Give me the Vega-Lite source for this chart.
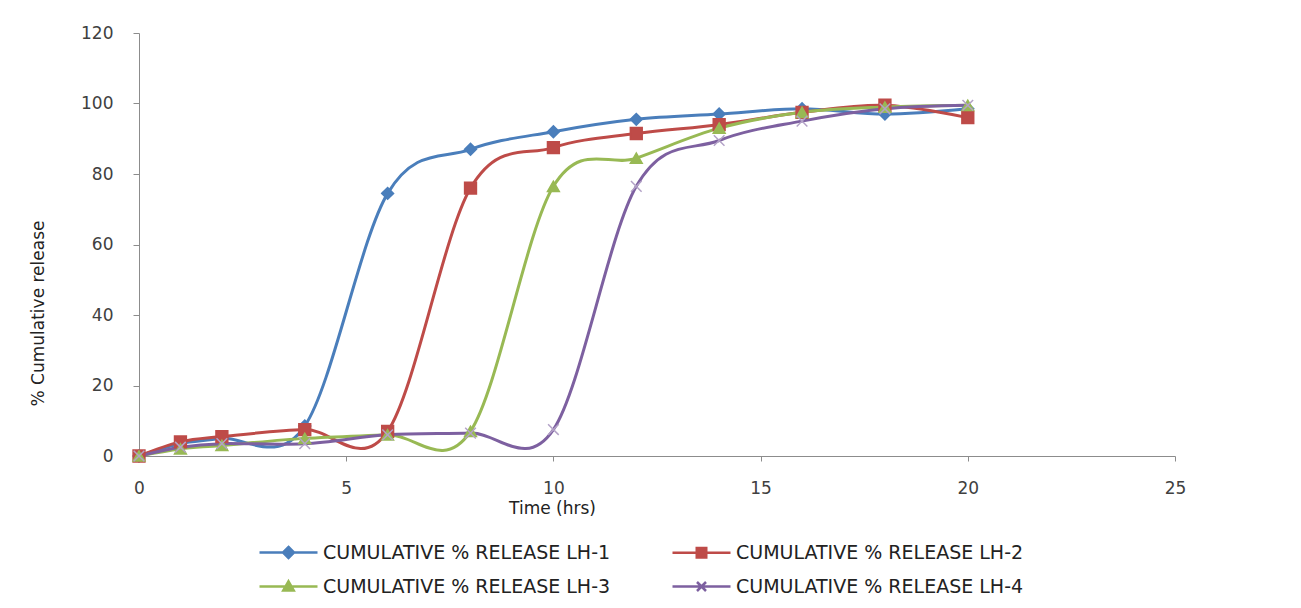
{
  "$schema": "https://vega.github.io/schema/vega-lite/v6.json",
  "width": 1036,
  "height": 423,
  "autosize": {"type": "none"},
  "padding": {"left": 139, "top": 33, "right": 126, "bottom": 152},
  "background": "white",
  "config": {
    "view": {"stroke": null},
    "font": "DejaVu Sans",
    "axis": {
      "grid": false,
      "domainColor": "#8c8c8c",
      "tickColor": "#8c8c8c",
      "labelColor": "#404040",
      "titleColor": "#222222",
      "labelFont": "DejaVu Sans",
      "titleFont": "DejaVu Sans",
      "labelFontSize": 17,
      "titleFontSize": 17,
      "titleFontWeight": "normal",
      "labelFlush": false
    }
  },
  "data": {
    "values": [
      {"series": "CUMULATIVE % RELEASE  LH-1", "time": 0, "release": 0},
      {"series": "CUMULATIVE % RELEASE  LH-1", "time": 1, "release": 3.5},
      {"series": "CUMULATIVE % RELEASE  LH-1", "time": 2, "release": 5},
      {"series": "CUMULATIVE % RELEASE  LH-1", "time": 4, "release": 8.5},
      {"series": "CUMULATIVE % RELEASE  LH-1", "time": 6, "release": 74.5},
      {"series": "CUMULATIVE % RELEASE  LH-1", "time": 8, "release": 87},
      {"series": "CUMULATIVE % RELEASE  LH-1", "time": 10, "release": 92},
      {"series": "CUMULATIVE % RELEASE  LH-1", "time": 12, "release": 95.5},
      {"series": "CUMULATIVE % RELEASE  LH-1", "time": 14, "release": 97},
      {"series": "CUMULATIVE % RELEASE  LH-1", "time": 16, "release": 98.5},
      {"series": "CUMULATIVE % RELEASE  LH-1", "time": 18, "release": 97},
      {"series": "CUMULATIVE % RELEASE  LH-1", "time": 20, "release": 98.5},
      {"series": "CUMULATIVE % RELEASE  LH-2", "time": 0, "release": 0},
      {"series": "CUMULATIVE % RELEASE  LH-2", "time": 1, "release": 4},
      {"series": "CUMULATIVE % RELEASE  LH-2", "time": 2, "release": 5.5},
      {"series": "CUMULATIVE % RELEASE  LH-2", "time": 4, "release": 7.5},
      {"series": "CUMULATIVE % RELEASE  LH-2", "time": 6, "release": 7},
      {"series": "CUMULATIVE % RELEASE  LH-2", "time": 8, "release": 76},
      {"series": "CUMULATIVE % RELEASE  LH-2", "time": 10, "release": 87.5},
      {"series": "CUMULATIVE % RELEASE  LH-2", "time": 12, "release": 91.5},
      {"series": "CUMULATIVE % RELEASE  LH-2", "time": 14, "release": 94},
      {"series": "CUMULATIVE % RELEASE  LH-2", "time": 16, "release": 97.5},
      {"series": "CUMULATIVE % RELEASE  LH-2", "time": 18, "release": 99.5},
      {"series": "CUMULATIVE % RELEASE  LH-2", "time": 20, "release": 96},
      {"series": "CUMULATIVE % RELEASE  LH-3", "time": 0, "release": 0},
      {"series": "CUMULATIVE % RELEASE  LH-3", "time": 1, "release": 2},
      {"series": "CUMULATIVE % RELEASE  LH-3", "time": 2, "release": 3},
      {"series": "CUMULATIVE % RELEASE  LH-3", "time": 4, "release": 5},
      {"series": "CUMULATIVE % RELEASE  LH-3", "time": 6, "release": 6},
      {"series": "CUMULATIVE % RELEASE  LH-3", "time": 8, "release": 7},
      {"series": "CUMULATIVE % RELEASE  LH-3", "time": 10, "release": 76.5},
      {"series": "CUMULATIVE % RELEASE  LH-3", "time": 12, "release": 84.5},
      {"series": "CUMULATIVE % RELEASE  LH-3", "time": 14, "release": 93},
      {"series": "CUMULATIVE % RELEASE  LH-3", "time": 16, "release": 97.5},
      {"series": "CUMULATIVE % RELEASE  LH-3", "time": 18, "release": 99},
      {"series": "CUMULATIVE % RELEASE  LH-3", "time": 20, "release": 99.5},
      {"series": "CUMULATIVE % RELEASE  LH-4", "time": 0, "release": 0},
      {"series": "CUMULATIVE % RELEASE  LH-4", "time": 1, "release": 2.5},
      {"series": "CUMULATIVE % RELEASE  LH-4", "time": 2, "release": 3.5},
      {"series": "CUMULATIVE % RELEASE  LH-4", "time": 4, "release": 3.5},
      {"series": "CUMULATIVE % RELEASE  LH-4", "time": 6, "release": 6},
      {"series": "CUMULATIVE % RELEASE  LH-4", "time": 8, "release": 6.5},
      {"series": "CUMULATIVE % RELEASE  LH-4", "time": 10, "release": 7.5},
      {"series": "CUMULATIVE % RELEASE  LH-4", "time": 12, "release": 76.5},
      {"series": "CUMULATIVE % RELEASE  LH-4", "time": 14, "release": 89.5},
      {"series": "CUMULATIVE % RELEASE  LH-4", "time": 16, "release": 95},
      {"series": "CUMULATIVE % RELEASE  LH-4", "time": 18, "release": 98.5},
      {"series": "CUMULATIVE % RELEASE  LH-4", "time": 20, "release": 99.5}
    ]
  },
  "encoding": {
    "x": {
      "field": "time",
      "type": "quantitative",
      "scale": {"domain": [0, 25], "nice": false, "zero": false},
      "axis": {
        "title": "Time (hrs)",
        "values": [0, 5, 10, 15, 20, 25],
        "tickSize": 5,
        "labelPadding": 27,
        "labelBaseline": "middle",
        "titleX": 413,
        "titleY": 52,
        "titleBaseline": "middle"
      }
    },
    "y": {
      "field": "release",
      "type": "quantitative",
      "scale": {"domain": [0, 120], "nice": false},
      "axis": {
        "title": "% Cumulative release",
        "values": [0, 20, 40, 60, 80, 100, 120],
        "tickSize": 6,
        "labelPadding": 20,
        "titleX": -101,
        "titleY": 280,
        "titleBaseline": "middle"
      }
    }
  },
  "layer": [
    {
      "mark": {"type": "line", "interpolate": "cardinal", "strokeWidth": 3},
      "encoding": {
        "color": {
          "field": "series",
          "type": "nominal",
          "scale": {"range": ["#4A7EBB", "#BE4B48", "#98B954", "#7D60A0"]},
          "legend": {
            "title": null,
            "orient": "none",
            "legendX": 140,
            "legendY": 510,
            "columns": 2,
            "direction": "horizontal",
            "columnPadding": 50,
            "rowPadding": 13,
            "padding": 0,
            "symbolSize": 100,
            "labelOffset": 25,
            "labelFont": "DejaVu Sans",
            "labelFontSize": 19,
            "labelColor": "#222222",
            "labelLimit": 600,
            "encode": {
              "symbols": {
                "update": {
                  "shape": {"signal": "indexof(datum.value,'LH-1')>=0 ? 'M-5.8,0L5.8,0M0,-1.1L1.1,0L0,1.1L-1.1,0Z' : indexof(datum.value,'LH-2')>=0 ? 'M-5.8,0L5.8,0M-0.95,-0.95L0.95,-0.95L0.95,0.95L-0.95,0.95Z' : indexof(datum.value,'LH-3')>=0 ? 'M-5.8,0L5.8,0M0,-1.05L1.05,0.8L-1.05,0.8Z' : 'M-5.8,0L5.8,0M-0.9,-0.9L0.9,0.9M-0.9,0.9L0.9,-0.9'"},
                  "fill": {"signal": "indexof(datum.value,'LH-1')>=0 ? '#4A7EBB' : indexof(datum.value,'LH-2')>=0 ? '#BE4B48' : indexof(datum.value,'LH-3')>=0 ? '#98B954' : 'transparent'"},
                  "strokeWidth": {"value": 2.5}
                }
              }
            }
          }
        }
      }
    },
    {
      "mark": {"type": "point", "size": 140, "strokeWidth": 1.5, "opacity": 1},
      "encoding": {
        "shape": {
          "field": "series",
          "type": "nominal",
          "scale": {"range": ["diamond", "square", "triangle-up", "M-0.9,-0.9L0.9,0.9M-0.9,0.9L0.9,-0.9"]},
          "legend": null
        },
        "fill": {
          "field": "series",
          "type": "nominal",
          "scale": {"range": ["#4A7EBB", "#BE4B48", "#98B954", "transparent"]},
          "legend": null
        },
        "stroke": {
          "field": "series",
          "type": "nominal",
          "scale": {"range": ["#4A7EBB", "#BE4B48", "#98B954", "#B3A2C7"]},
          "legend": null
        }
      }
    }
  ]
}
